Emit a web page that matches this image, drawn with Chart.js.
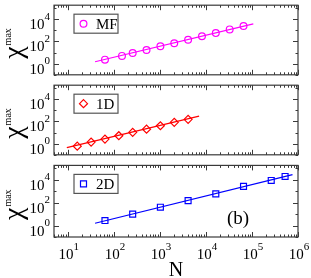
<!DOCTYPE html>
<html>
<head>
<meta charset="utf-8">
<script src="https://cdn.jsdelivr.net/npm/chart.js@4/dist/chart.umd.min.js"></script>
<style>
  html, body { margin: 0; padding: 0; background: #fff; }
  #wrap { position: relative; width: 311px; height: 278px; }
  .panel { position: absolute; left: 0; width: 311px; }
</style>
</head>
<body>
<div id="wrap">
  <div class="panel" style="top:0;height:80px"><canvas id="c1"></canvas></div>
  <div class="panel" style="top:80px;height:80px"><canvas id="c2"></canvas></div>
  <div class="panel" style="top:160px;height:118px"><canvas id="c3"></canvas></div>
</div>
<script>
// values
const mfN = [64, 150, 256, 512, 1024, 2048, 4096, 8192, 16384, 32768, 65536];
const mfChi = [2.3, 5.0, 9.1, 17, 37, 69, 141, 288, 562, 1200, 2450];
const mfFitN = [39, 107000];
const mfFitChi = [1.48, 3800];

const oneDN = [16, 32, 64, 128, 256, 512, 1024, 2048, 4096];
const oneDChi = [0.6, 1.38, 2.6, 5.2, 10.5, 20, 41, 83, 155];
const oneDFitN = [9.5, 7100];
const oneDFitChi = [0.44, 295];

const twoDN = [64, 256, 1024, 4096, 16384, 65536, 262144, 524288];
const twoDChi = [2.75, 10, 40, 151, 590, 2630, 8700, 19500];
const twoDFitN = [39, 760000];
const twoDFitChi = [1.6, 28000];

const xTickExp = [1, 2, 3, 4, 5, 6];
const yTickExp = [0, 2, 4];

const SERIF = "'Liberation Serif', 'Times New Roman', serif";
const FRAME = "#3a3a3a";

function pts(xs, ys) {
  return xs.map((v, i) => ({ x: v, y: ys[i] }));
}

function drawPow(ctx, x, y, exp, align, big, small, rise) {
  ctx.font = big + "px " + SERIF;
  const w1 = ctx.measureText("10").width;
  ctx.font = small + "px " + SERIF;
  const w2 = ctx.measureText(String(exp)).width;
  let x0 = x;
  if (align === "right") x0 = x - w1 - w2;
  if (align === "center") x0 = x - (w1 + w2) / 2;
  ctx.textAlign = "left";
  ctx.textBaseline = "alphabetic";
  ctx.fillStyle = "#000";
  ctx.font = big + "px " + SERIF;
  ctx.fillText("10", x0, y);
  ctx.font = small + "px " + SERIF;
  ctx.fillText(String(exp), x0 + w1, y - rise);
}

function drawMarker(ctx, style, color, x, y) {
  ctx.save();
  ctx.strokeStyle = color;
  ctx.lineWidth = 1.2;
  ctx.beginPath();
  if (style === "circle") {
    ctx.arc(x, y, 3.4, 0, Math.PI * 2);
  } else if (style === "rectRot") {
    ctx.moveTo(x, y - 4); ctx.lineTo(x + 4, y); ctx.lineTo(x, y + 4); ctx.lineTo(x - 4, y); ctx.closePath();
  } else {
    ctx.rect(x - 3, y - 3, 6, 6);
  }
  ctx.stroke();
  ctx.restore();
}

function panelPlugin(label, style, color, bottomAxis) {
  return {
    id: "panelDecor",
    afterDraw(chart) {
      const ctx = chart.ctx;
      const a = chart.chartArea;
      const xs = chart.scales.x;
      const ys = chart.scales.y;
      ctx.save();

      // frame
      ctx.strokeStyle = FRAME;
      ctx.lineWidth = 1.2;
      ctx.strokeRect(a.left, a.top, a.right - a.left, a.bottom - a.top);

      // x ticks, inside, top and bottom
      ctx.lineWidth = 1;
      ctx.beginPath();
      for (let d = 0; d <= 6; d++) {
        for (let m = 1; m <= 9; m++) {
          const v = m * Math.pow(10, d);
          if (v < xs.min || v > xs.max) continue;
          const px = Math.round(xs.getPixelForValue(v)) + 0.5;
          const len = m === 1 ? 5 : 2.5;
          ctx.moveTo(px, a.bottom); ctx.lineTo(px, a.bottom - len);
          ctx.moveTo(px, a.top); ctx.lineTo(px, a.top + len);
        }
      }
      // y ticks, inside, left and right
      for (let e = -1; e <= 5; e++) {
        const v = Math.pow(10, e);
        if (v < ys.min || v > ys.max) continue;
        const py = Math.round(ys.getPixelForValue(v)) + 0.5;
        const len = e % 2 === 0 ? 5 : 2.5;
        ctx.moveTo(a.left, py); ctx.lineTo(a.left + len, py);
        ctx.moveTo(a.right, py); ctx.lineTo(a.right - len, py);
      }
      ctx.stroke();

      // y tick labels
      yTickExp.forEach(e => {
        const py = ys.getPixelForValue(Math.pow(10, e));
        drawPow(ctx, a.left - 4, py + 10, e, "right", 15, 11, 9.5);
      });

      // y axis title, rotated
      const cy = (a.top + a.bottom) / 2 + 2;
      ctx.save();
      ctx.translate(22, cy);
      ctx.rotate(-Math.PI / 2);
      ctx.fillStyle = "#000";
      ctx.textBaseline = "alphabetic";
      ctx.textAlign = "left";
      ctx.font = "28px " + SERIF;
      const wChi = ctx.measureText("\u03c7").width;
      ctx.font = "10px " + SERIF;
      const wMax = ctx.measureText("max").width;
      const start = -(wChi + wMax) / 2 - 2;
      ctx.font = "28px " + SERIF;
      ctx.fillText("\u03c7", start, 0);
      ctx.font = "10px " + SERIF;
      ctx.fillText("max", start + wChi + 1, -11);
      ctx.restore();

      // legend box
      const bx = a.left + 20, by = a.top + 9, bw = 44, bh = 19;
      ctx.fillStyle = "#fff";
      ctx.fillRect(bx, by, bw, bh);
      ctx.strokeStyle = "#555";
      ctx.lineWidth = 1.2;
      ctx.strokeRect(bx, by, bw, bh);
      drawMarker(ctx, style, color, bx + 9.5, by + bh / 2);
      ctx.fillStyle = "#000";
      ctx.font = "15px " + SERIF;
      ctx.textAlign = "left";
      ctx.fillText(label, bx + 22, by + 15);

      if (bottomAxis) {
        xTickExp.forEach(e => {
          const px = xs.getPixelForValue(Math.pow(10, e));
          drawPow(ctx, px + 1, a.bottom + 22, e, "center", 15, 11, 9);
        });
        ctx.fillStyle = "#000";
        ctx.font = "20px " + SERIF;
        ctx.textAlign = "center";
        ctx.fillText("N", (a.left + a.right) / 2, a.bottom + 39);
        ctx.font = "19px " + SERIF;
        ctx.textAlign = "left";
        ctx.fillText("(b)", 227, a.top + 59);
      }
      ctx.restore();
    }
  };
}

function makeChart(id, label, n, chi, fitN, fitChi, style, radius, color, padding, bottomAxis) {
  return new Chart(document.getElementById(id), {
    type: "scatter",
    data: {
      datasets: [
        {
          label: label + " fit",
          data: pts(fitN, fitChi),
          showLine: true,
          borderColor: color,
          borderWidth: 1.2,
          pointRadius: 0,
          fill: false
        },
        {
          label: label,
          data: pts(n, chi),
          showLine: false,
          pointStyle: style,
          pointRadius: radius,
          pointBorderWidth: 1.2,
          pointBorderColor: color,
          pointBackgroundColor: "rgba(0,0,0,0)"
        }
      ]
    },
    options: {
      responsive: true,
      maintainAspectRatio: false,
      animation: false,
      devicePixelRatio: 1,
      layout: { padding: padding },
      plugins: { legend: { display: false }, tooltip: { enabled: false } },
      scales: {
        x: { type: "logarithmic", min: 5, max: 1e6, display: false },
        y: { type: "logarithmic", min: 0.1, max: 1.8e5, display: false }
      }
    },
    plugins: [panelPlugin(label, style, color, bottomAxis)]
  });
}

makeChart("c1", "MF", mfN, mfChi, mfFitN, mfFitChi, "circle", 3.4, "#ff00ff",
  { left: 54, right: 13, top: 1, bottom: 4 }, false);
makeChart("c2", "1D", oneDN, oneDChi, oneDFitN, oneDFitChi, "rectRot", 4, "#ff0000",
  { left: 54, right: 13, top: 2.5, bottom: 4 }, false);
makeChart("c3", "2D", twoDN, twoDChi, twoDFitN, twoDFitChi, "rect", 4.2, "#0000ff",
  { left: 54, right: 13, top: 2, bottom: 41 }, true);
</script>
</body>
</html>
